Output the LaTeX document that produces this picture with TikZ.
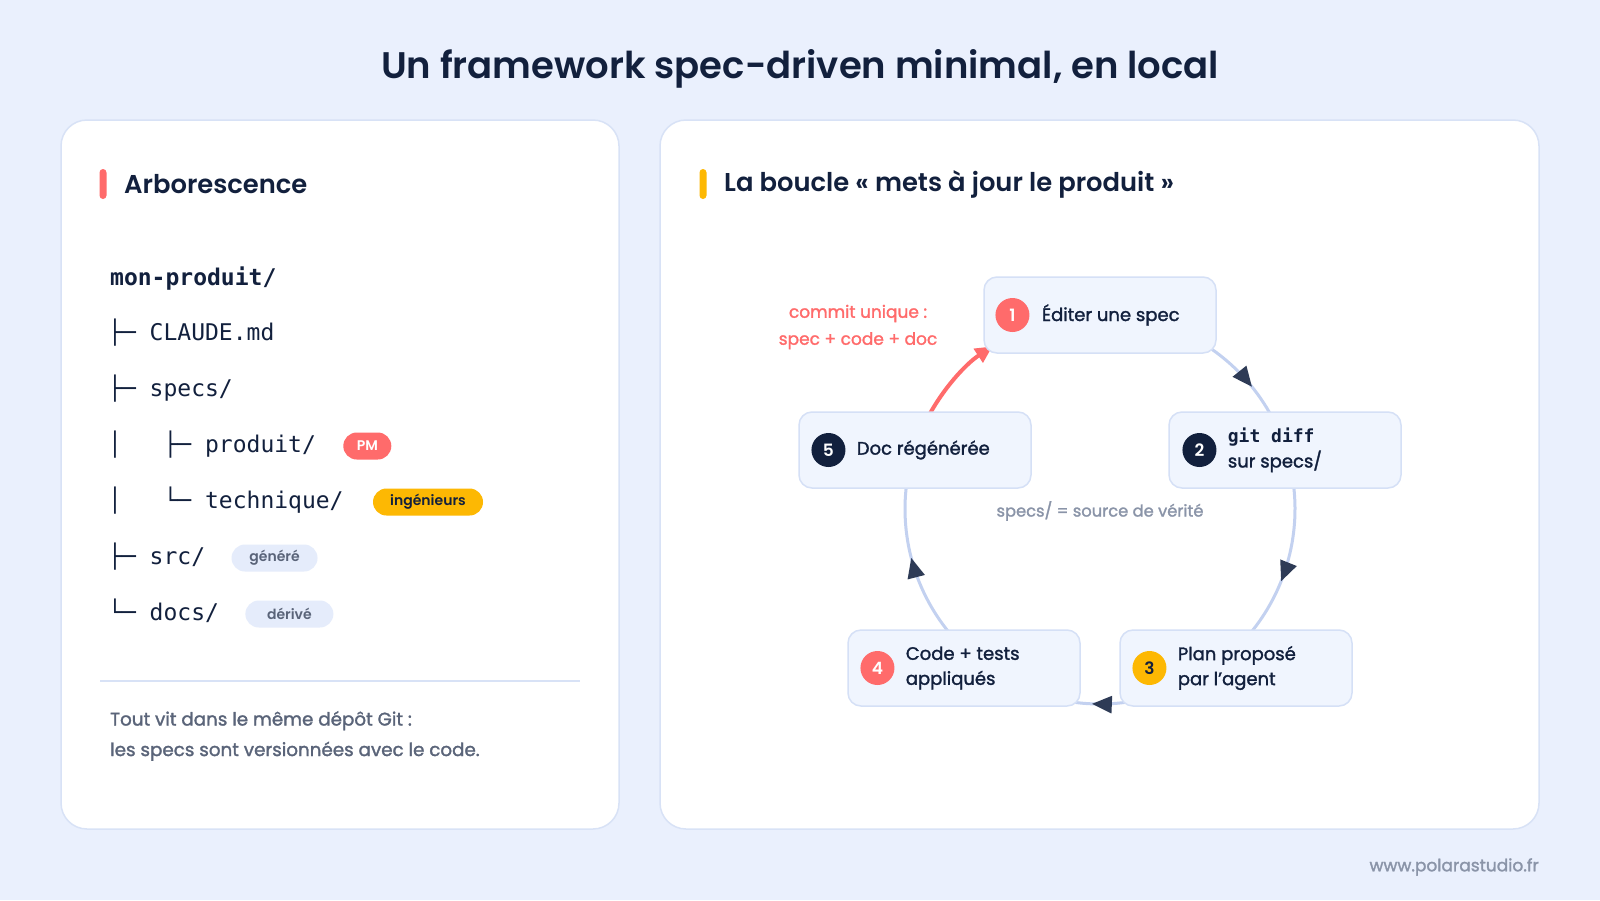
\documentclass[tikz,border=0pt]{standalone}
\usepackage{fontspec}
\setmainfont{Poppins}
\setmonofont{DejaVu Sans Mono}
\newfontfamily\medfont{Poppins}[FakeBold=1.6]
\IfFontExistsTF{Poppins SemiBold}{\newfontfamily\semifont{Poppins SemiBold}}{\newfontfamily\semifont{Poppins}[FakeBold=1.5]}
\usetikzlibrary{positioning, arrows.meta, decorations.markings}
\definecolor{PageBg}{HTML}{EAF0FD}
\definecolor{CardLine}{HTML}{D8E2F6}
\definecolor{Ink}{HTML}{12203D}
\definecolor{Coral}{HTML}{FF6B6B}
\definecolor{Amber}{HTML}{FDB803}
\definecolor{NodeFill}{HTML}{F0F5FE}
\definecolor{NodeLine}{HTML}{D5E0F6}
\definecolor{Ring}{HTML}{C3D1F0}
\definecolor{ArrowInk}{HTML}{2E3B56}
\definecolor{Muted}{HTML}{5A6479}
\definecolor{Soft}{HTML}{8A94A8}
\definecolor{PillBg}{HTML}{E5ECFB}

\begin{document}
\begin{tikzpicture}[x=1pt, y=-1pt,
  card/.style={draw=CardLine, line width=1.5pt, fill=white, rounded corners=26pt},
  bar/.style={inner sep=0pt, minimum width=7pt, minimum height=30pt, rounded corners=3.5pt},
  heading/.style={anchor=west, inner sep=0pt, text=Ink, font=\fontsize{25.8}{31}\semifont},
  tree/.style={anchor=west, inner sep=0pt, text=Ink, text height=17pt, text depth=5pt,
               font=\fontsize{23}{28}\ttfamily},
  badge/.style={inner sep=0pt, minimum height=27pt, rounded corners=13.5pt,
                font=\fontsize{14}{16}\semifont},
  stepbox/.style={draw=NodeLine, line width=1.5pt, fill=NodeFill, rounded corners=13pt,
                  minimum width=232pt, minimum height=76pt, inner sep=0pt},
  num/.style={circle, inner sep=0pt, minimum size=34pt, text=white,
              font=\fontsize{17}{20}\semifont},
  steptext/.style={anchor=west, inner sep=0pt, align=left, text=Ink,
                   font=\fontsize{18}{25}\medfont},
  ring/.style={draw=Ring, line width=3pt},
  flow/.style={ring, postaction={decorate}, decoration={markings,
               mark=at position #1 with {\arrow{Triangle[length=20pt, width=17pt, color=ArrowInk]}}}},
  commit/.style={draw=Coral, line width=4pt, -{Triangle[length=17pt, width=16pt]}},
]
% page and cards
\fill[PageBg] (0,0) rectangle (1600,900);
\node[font=\fontsize{37}{44}\semifont, text=Ink] (title) at (800,69) {Un framework spec-driven minimal, en local};
\draw[card] (61,120) rectangle (619,829);
\draw[card] (660,120) rectangle (1539,829);

% left card: tree
\node[bar, fill=Coral] (barL) at (103,184) {};
\node[heading] (headL) at (124,184) {Arborescence};

\node[tree, font=\fontsize{23}{28}\ttfamily\bfseries] (t1) at (110,279) {mon-produit/};
\node[tree] (t2) at (108,334) {├─ CLAUDE.md};
\node[tree] (t3) at (108,390) {├─ specs/};
\node[tree] (t4) at (108,446) {│\ \ \ ├─ produit/};
\node[tree] (t5) at (108,502) {│\ \ \ └─ technique/};
\node[tree] (t6) at (108,558) {├─ src/};
\node[tree] (t7) at (108,614) {└─ docs/};

\node[badge, fill=Coral, text=white, minimum width=48pt, right=27pt of t4] (pm) {PM};
\node[badge, fill=Amber, text=Ink, minimum width=110pt, right=29pt of t5] (eng) {ingénieurs};
\node[badge, fill=PillBg, text=Muted, minimum width=86pt, right=26pt of t6] (gen) {généré};
\node[badge, fill=PillBg, text=Muted, minimum width=88pt, right=26pt of t7] (der) {dérivé};

\draw[CardLine, line width=2pt] (100,681) -- (580,681);
\node[anchor=west, inner sep=0pt, align=left, text=Muted, font=\fontsize{18.3}{30.5}\medfont] (note) at (110,736)
  {Tout vit dans le même dépôt Git :\\les specs sont versionnées avec le code.};

% right card: loop
\node[bar, fill=Amber] (barR) at (703,184) {};
\node[heading] (headR) at (724,184) {La boucle « mets à jour le produit »};

\coordinate (hub) at (1100,509);
\draw[flow=0.6] ([shift={(-55:195)}]hub) arc[start angle=-55, end angle=-28, radius=195];
\draw[flow=0.62] ([shift={(-8:195)}]hub) arc[start angle=-8, end angle=40, radius=195];
\draw[flow=0.62] ([shift={(80:195)}]hub) arc[start angle=80, end angle=100, radius=195];
\draw[flow=0.53] ([shift={(139:195)}]hub) arc[start angle=139, end angle=189, radius=195];
\draw[commit] ([shift={(-152:195)}]hub) arc[start angle=-152, end angle=-123.5, radius=195];

\node[stepbox] (s1) at (1100,315) {};
\node[stepbox] (s2) at (1285,450) {};
\node[stepbox] (s3) at (1236,668) {};
\node[stepbox] (s4) at (964,668) {};
\node[stepbox] (s5) at (915,450) {};

\node[num, fill=Coral, right=12pt of s1.west] (n1) {1};
\node[num, fill=Ink, right=14pt of s2.west] (n2) {2};
\node[num, fill=Amber, text=Ink, right=13pt of s3.west] (n3) {3};
\node[num, fill=Coral, right=13pt of s4.west] (n4) {4};
\node[num, fill=Ink, right=13pt of s5.west] (n5) {5};

\node[steptext, right=12pt of n1] (l1) {Éditer une spec};
\node[steptext, right=11pt of n2] (l2) {{\ttfamily\bfseries git diff}\\sur specs/};
\node[steptext, right=11pt of n3] (l3) {Plan proposé\\par l’agent};
\node[steptext, right=11pt of n4] (l4) {Code + tests\\appliqués};
\node[steptext, right=11pt of n5] (l5) {Doc régénérée};

\node[align=center, text=Coral, font=\fontsize{17}{27}\medfont] (commitnote) at (858,327)
  {commit unique :\\spec + code + doc};
\node[text=Soft, font=\fontsize{16.3}{20}\medfont] (truth) at (1100,511) {specs/ = source de vérité};

\node[anchor=east, inner sep=0pt, text=Soft, font=\fontsize{17}{20}\medfont] (url) at (1539,867) {www.polarastudio.fr};
\end{tikzpicture}
\end{document}
